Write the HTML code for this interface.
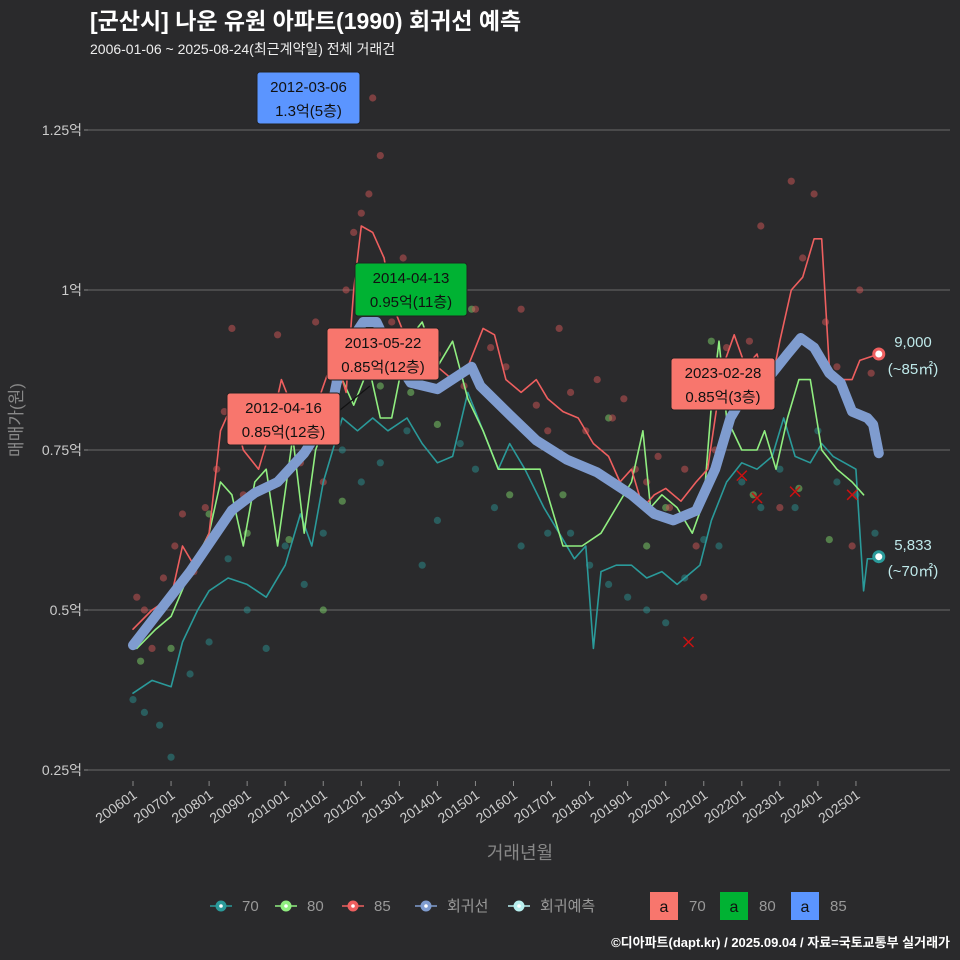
<!DOCTYPE html>
<html><head><meta charset="utf-8"><style>
body{margin:0;background:#2a2a2c;}
svg{display:block;font-family:"Liberation Sans","Noto Sans CJK KR",sans-serif;}
</style></head><body>
<svg id="c" width="960" height="960" viewBox="0 0 960 960">
<rect width="960" height="960" fill="#2a2a2c"/>
<text x="90" y="29" fill="#fff" font-size="23" font-weight="bold">[군산시] 나운 유원 아파트(1990) 회귀선 예측</text>
<text x="90" y="54" fill="#eee" font-size="14">2006-01-06 ~ 2025-08-24(최근계약일) 전체 거래건</text>
<g id="grid"></g>
<g id="xt"></g>
<g id="marks"></g>
<text transform="translate(22,420) rotate(-90)" text-anchor="middle" fill="#888" font-size="17">매매가(원)</text>
<text x="520" y="859" text-anchor="middle" fill="#888" font-size="18">거래년월</text>
<g id="legend" font-size="15" fill="#999"></g>
<text x="950" y="947" text-anchor="end" fill="#fff" font-size="13" font-weight="bold">©디아파트(dapt.kr) / 2025.09.04 / 자료=국토교통부 실거래가</text>
</svg>
<script>
const yTicks=[0.25,0.5,0.75,1,1.25];
const yTickLabels=["0.25억","0.5억","0.75억","1억","1.25억"];
const xTickYears=[2006,2007,2008,2009,2010,2011,2012,2013,2014,2015,2016,2017,2018,2019,2020,2021,2022,2023,2024,2025];
const regT=[2006.0,2007.5,2008.6,2009.2,2009.8,2010.5,2011.2,2011.5,2012.05,2012.4,2012.8,2013.3,2014.0,2014.9,2015.13,2015.9,2016.6,2017.4,2018.2,2019.1,2019.7,2020.2,2020.8,2021.3,2021.7,2022.2,2022.8,2023.2,2023.55,2023.9,2024.3,2024.6,2024.9,2025.3,2025.45,2025.6];
const regV=[0.445,0.56,0.656,0.683,0.70,0.745,0.81,0.90,0.95,0.95,0.90,0.855,0.845,0.88,0.85,0.805,0.765,0.735,0.715,0.68,0.65,0.64,0.655,0.72,0.80,0.85,0.87,0.90,0.925,0.91,0.87,0.855,0.81,0.80,0.79,0.745];
const redT=[2006.0,2006.5,2007,2007.3,2007.6,2008,2008.3,2008.6,2008.9,2009.3,2009.6,2009.9,2010.3,2010.6,2011.0,2011.3,2011.6,2011.8,2012.0,2012.3,2012.6,2012.8,2013.2,2013.6,2014.0,2014.4,2014.8,2015.2,2015.5,2015.8,2016.2,2016.6,2016.9,2017.3,2017.7,2018.1,2018.5,2018.8,2019.1,2019.4,2019.7,2020.0,2020.4,2020.8,2021.1,2021.5,2021.8,2022.1,2022.4,2022.7,2023.0,2023.3,2023.6,2023.9,2024.1,2024.3,2024.6,2024.9,2025.1,2025.6];
const redV=[0.47,0.5,0.52,0.6,0.57,0.62,0.78,0.82,0.75,0.72,0.78,0.86,0.80,0.78,0.85,0.90,0.84,1.0,1.1,1.09,1.05,0.98,0.92,0.93,0.88,0.86,0.88,0.94,0.93,0.86,0.84,0.86,0.83,0.81,0.80,0.76,0.74,0.70,0.72,0.66,0.68,0.69,0.67,0.70,0.72,0.88,0.93,0.88,0.90,0.83,0.92,1.0,1.02,1.08,1.08,0.88,0.86,0.86,0.89,0.90];
const grnT=[2006.1,2006.6,2007,2007.5,2008,2008.3,2008.6,2008.9,2009.2,2009.5,2009.8,2010.2,2010.5,2010.8,2011.1,2011.5,2011.8,2012.2,2012.5,2012.8,2013.2,2013.6,2014.0,2014.4,2014.8,2015.2,2015.6,2016.3,2016.7,2017.3,2017.8,2018.3,2018.7,2019.1,2019.4,2019.6,2019.9,2020.3,2020.7,2021.0,2021.2,2021.4,2021.6,2022.0,2022.4,2022.6,2022.9,2023.2,2023.5,2023.8,2024.1,2024.5,2024.9,2025.2];
const grnV=[0.44,0.47,0.49,0.56,0.62,0.70,0.68,0.60,0.70,0.72,0.60,0.77,0.62,0.75,0.80,0.86,0.82,0.88,0.80,0.80,0.92,0.95,0.88,0.92,0.83,0.78,0.72,0.72,0.72,0.60,0.60,0.62,0.66,0.70,0.78,0.66,0.68,0.66,0.62,0.67,0.82,0.92,0.80,0.75,0.75,0.78,0.72,0.80,0.86,0.86,0.75,0.72,0.70,0.68];
const tealT=[2006.0,2006.5,2007.0,2007.3,2007.7,2008.0,2008.5,2009.0,2009.5,2010.0,2010.4,2010.7,2011.0,2011.5,2011.9,2012.3,2012.7,2013.2,2013.6,2014.0,2014.4,2014.8,2015.2,2015.6,2015.9,2016.3,2016.8,2017.2,2017.6,2017.9,2018.1,2018.3,2018.7,2019.1,2019.5,2019.9,2020.3,2020.7,2020.9,2021.2,2021.6,2022.0,2022.4,2022.8,2023.1,2023.4,2023.8,2024.1,2024.4,2024.7,2025.0,2025.2,2025.3,2025.6];
const tealV=[0.37,0.39,0.38,0.45,0.50,0.53,0.55,0.54,0.52,0.57,0.65,0.60,0.70,0.80,0.78,0.80,0.78,0.80,0.76,0.73,0.74,0.84,0.78,0.72,0.76,0.72,0.66,0.62,0.58,0.60,0.44,0.56,0.57,0.57,0.55,0.56,0.54,0.56,0.57,0.64,0.70,0.73,0.72,0.74,0.80,0.74,0.73,0.76,0.74,0.73,0.72,0.53,0.58,0.58];
const redPtT=[2006.1,2006.3,2006.5,2006.8,2007.1,2007.3,2007.6,2007.9,2008.2,2008.4,2008.6,2008.9,2009.2,2009.5,2009.8,2010.1,2010.4,2010.8,2011.0,2011.3,2011.6,2011.8,2012.0,2012.2,2012.3,2012.5,2012.8,2013.1,2013.3,2013.6,2014.0,2014.3,2014.7,2015.0,2015.4,2015.8,2016.2,2016.6,2016.9,2017.2,2017.5,2017.9,2018.2,2018.6,2018.9,2019.2,2019.5,2019.8,2020.1,2020.5,2020.8,2021.0,2021.3,2021.6,2021.9,2022.2,2022.5,2022.8,2023.0,2023.3,2023.6,2023.9,2024.2,2024.5,2024.9,2025.1,2025.4];
const redPtV=[0.52,0.50,0.44,0.55,0.60,0.65,0.56,0.66,0.72,0.81,0.94,0.68,0.79,0.80,0.93,0.82,0.73,0.95,0.70,0.86,1.0,1.09,1.12,1.15,1.3,1.21,0.95,1.05,0.98,0.93,0.90,1.02,0.85,0.97,0.91,0.88,0.97,0.82,0.78,0.94,0.84,0.78,0.86,0.80,0.83,0.72,0.70,0.74,0.66,0.72,0.60,0.52,0.75,0.91,0.84,0.92,1.1,0.86,0.66,1.17,1.05,1.15,0.95,0.88,0.60,1.0,0.87];
const grnPtT=[2006.2,2007.0,2008.0,2009.0,2010.1,2011.0,2011.5,2012.5,2013.3,2014.0,2014.9,2015.9,2017.3,2018.5,2019.5,2020.0,2021.2,2022.3,2023.5,2024.3];
const grnPtV=[0.42,0.44,0.65,0.62,0.61,0.50,0.67,0.85,0.84,0.79,0.97,0.68,0.68,0.80,0.60,0.66,0.92,0.68,0.69,0.61];
const tealPtT=[2006.0,2006.3,2006.7,2007.0,2007.5,2008.0,2008.5,2009.0,2009.5,2010.0,2010.5,2011.0,2011.5,2012.0,2012.5,2013.2,2013.6,2014.0,2014.6,2015.0,2015.5,2016.2,2016.9,2017.5,2018.0,2018.5,2019.0,2019.5,2020.0,2020.5,2021.0,2021.4,2022.0,2022.5,2023.0,2023.4,2024.0,2024.5,2025.0,2025.5];
const tealPtV=[0.36,0.34,0.32,0.27,0.40,0.45,0.58,0.50,0.44,0.60,0.54,0.62,0.75,0.70,0.73,0.78,0.57,0.64,0.76,0.72,0.66,0.60,0.62,0.62,0.57,0.54,0.52,0.50,0.48,0.55,0.61,0.60,0.70,0.66,0.72,0.66,0.78,0.70,0.68,0.62];
const xMarkT=[2020.6,2022.0,2022.4,2023.4,2024.9];
const xMarkV=[0.45,0.71,0.675,0.685,0.68];

const NS='http://www.w3.org/2000/svg';
const X=t=>133+(t-2006)*38.05;
const Y=v=>290+(1-v)*640;
function mk(tag,attrs,parent){const e=document.createElementNS(NS,tag);for(const k in attrs)e.setAttribute(k,attrs[k]);parent.appendChild(e);return e;}
const grid=document.getElementById('grid'),xt=document.getElementById('xt'),marks=document.getElementById('marks'),lg=document.getElementById('legend');
yTicks.forEach((v,i)=>{
 const l=mk('line',{x1:88,x2:950,y1:Y(v),y2:Y(v),stroke:'#6a6a6a','stroke-width':1},grid);
 
 
 const tk=mk('line',{x1:84,x2:88,y1:Y(v),y2:Y(v),stroke:'#888'},grid);
 
 
 const t=mk('text',{x:82,y:Y(v)+5,'text-anchor':'end',fill:'#ccc','font-size':14},grid);
 t.textContent=yTickLabels[i];
 
 
});
xTickYears.forEach(yr=>{
 const x=X(yr);
 const tk=mk('line',{x1:x,x2:x,y1:781,y2:786,stroke:'#888'},xt);
 
 
 const t=mk('text',{x:0,y:0,'text-anchor':'end',fill:'#ccc','font-size':14,transform:`translate(${x+5},${797}) rotate(-35)`},xt);
 t.textContent=yr+'01';
 
 
});
function pts(T,V,col,name){
 T.forEach((t,i)=>{const c=mk('circle',{cx:X(t),cy:Y(V[i]),r:3.6,fill:col,'fill-opacity':0.5},marks);
 
 });
}
function line(T,V,col,w,name){
 const d=T.map((t,i)=>(i?'L':'M')+X(t).toFixed(1)+','+Y(V[i]).toFixed(1)).join('');
 const p=mk('path',{d:d,fill:'none',stroke:col,'stroke-width':w,'stroke-linejoin':'round','stroke-linecap':'round'},marks);
 
 
}
pts(tealPtT,tealPtV,'#2a8f8f','point-70');
pts(grnPtT,grnPtV,'#7ed36a','point-80');
pts(redPtT,redPtV,'#d05555','point-85');
line(tealT,tealV,'#2a9a9a',1.6,'line-70');
line(grnT,grnV,'#90ee80',1.6,'line-80');
line(redT,redV,'#ee5f5f',1.6,'line-85');
line(regT,regV,'#7f9ccf',10,'regression-line');
xMarkT.forEach((t,i)=>{const x=X(t),y=Y(xMarkV[i]);
 const p=mk('path',{d:`M${x-5},${y-5}L${x+5},${y+5}M${x-5},${y+5}L${x+5},${y-5}`,stroke:'#cc1111','stroke-width':1.5},marks);
 
 });
const endR=mk('circle',{cx:X(2025.6),cy:Y(0.90),r:5,fill:'#fff',stroke:'#ee5f5f','stroke-width':3},marks);


const endT=mk('circle',{cx:X(2025.6),cy:Y(0.5833),r:5,fill:'#fff',stroke:'#2a9a9a','stroke-width':3},marks);


[[913,347,'9,000'],[913,374,'(~85㎡)'],[913,550,'5,833'],[913,576,'(~70㎡)']].forEach(a=>{
 const t=mk('text',{x:a[0],y:a[1],'text-anchor':'middle',fill:'#bfe9ea','font-size':15},marks);t.textContent=a[2];
 
 });
const ann=[[257,72,103,52,'#5b95ff','2012-03-06','1.3억(5층)'],[355,263,112,53,'#00b233','2014-04-13','0.95억(11층)'],[327,328,112,52,'#f8766d','2013-05-22','0.85억(12층)'],[227,393,113,52,'#f8766d','2012-04-16','0.85억(12층)'],[671,358,104,52,'#f8766d','2023-02-28','0.85억(3층)']];
const cl=mk('path',{d:'M340,410L370,386',stroke:'#111','stroke-width':1.2},marks);


ann.forEach(a=>{
 const g=mk('g',{},marks);
 
 
 mk('rect',{x:a[0],y:a[1],width:a[2],height:a[3],rx:3,fill:a[4],stroke:'#222','stroke-width':1},g);
 const t1=mk('text',{x:a[0]+a[2]/2,y:a[1]+20,'text-anchor':'middle',fill:'#111','font-size':15},g);t1.textContent=a[5];
 const t2=mk('text',{x:a[0]+a[2]/2,y:a[1]+44,'text-anchor':'middle',fill:'#111','font-size':15},g);t2.textContent=a[6];
});
const leg=[[221,'#2a9a9a','70'],[286,'#90ee80','80'],[353,'#ee5f5f','85'],[426,'#7f9ccf','회귀선'],[519,'#b8f0f0','회귀예측']];
leg.forEach(a=>{
 const g=mk('g',{},lg);
 
 
 mk('line',{x1:a[0]-11,x2:a[0]+11,y1:906,y2:906,stroke:a[1],'stroke-width':1.5},g);
 mk('circle',{cx:a[0],cy:906,r:5.5,fill:a[1]},g);
 mk('circle',{cx:a[0],cy:906,r:1.8,fill:'#fff'},g);
 const t=mk('text',{x:a[0]+21,y:911,fill:'#999'},g);t.textContent=a[2];
});
[[650,'#f8766d','70'],[720,'#00b233','80'],[791,'#5b95ff','85']].forEach(a=>{
 const g=mk('g',{},lg);
 
 
 mk('rect',{x:a[0],y:892,width:28,height:28,fill:a[1]},g);
 const t1=mk('text',{x:a[0]+14,y:912,'text-anchor':'middle',fill:'#111','font-size':16},g);t1.textContent='a';
 const t2=mk('text',{x:a[0]+39,y:911,fill:'#999'},g);t2.textContent=a[2];
});
</script>
</body></html>
